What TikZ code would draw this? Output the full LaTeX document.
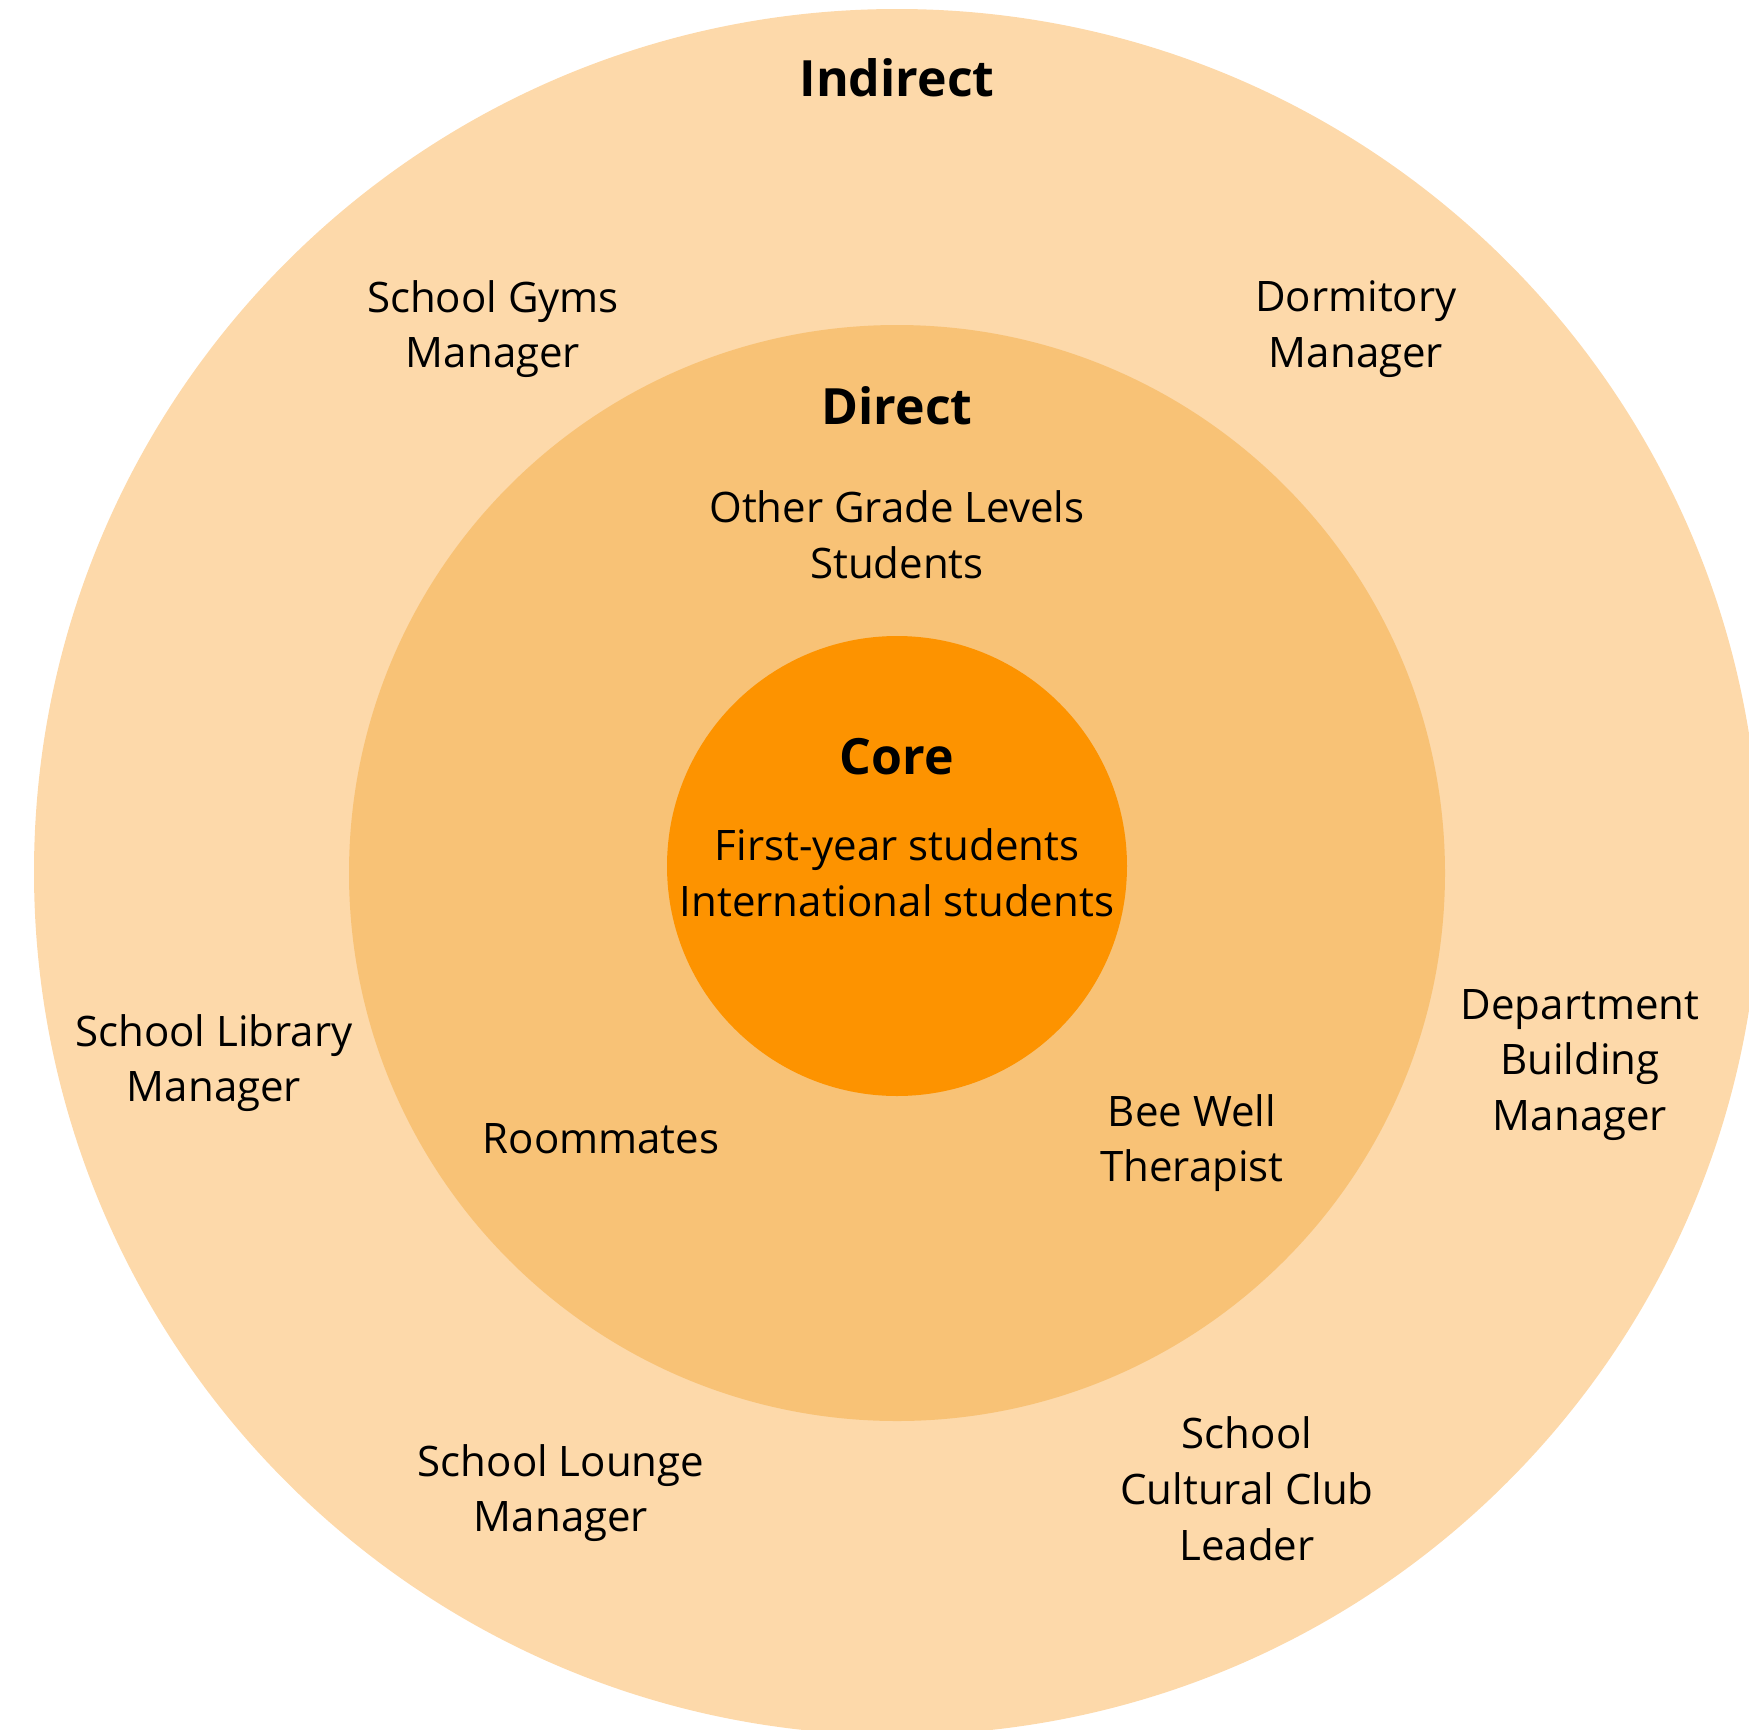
\documentclass[tikz,border=0pt]{standalone}
\usepackage{fontspec}
\setmainfont{Open Sans}
\definecolor{outerc}{HTML}{FDD9AA}
\definecolor{midc}{HTML}{F8C276}
\definecolor{corec}{HTML}{FD9300}
\begin{document}
\begin{tikzpicture}[x=1pt,y=-1pt,
  lbl/.style={align=center,inner sep=0pt,font=\fontsize{42}{55.8}\selectfont,text=black},
  ttl/.style={align=center,inner sep=0pt,font=\fontsize{50}{60}\selectfont\bfseries,text=black}]
\useasboundingbox (0,0) rectangle (1749,1730);
\clip (0,0) rectangle (1749,1730);
\fill[outerc] (897,872) circle[radius=863];
\fill[midc] (897,873) circle[radius=548];
\fill[corec] (897,866) circle[radius=230];
\node[ttl] (indirect) at (897,78) {Indirect};
\node[ttl] (direct) at (897,406) {Direct};
\node[ttl] (core) at (897,757) {Core};
\node[lbl] (gyms) at (493,329) {School Gyms\\Manager};
\node[lbl] (dorm) at (1356,329) {Dormitory\\Manager};
\node[lbl] (other) at (897,535) {Other Grade Levels\\Students};
\node[lbl] (firsty) at (897,873) {First-year students\\International students};
\node[lbl] (library) at (214,1063) {School Library\\Manager};
\node[lbl] (dept) at (1580,1065) {Department\\Building\\Manager};
\node[lbl] (room) at (601,1139) {Roommates};
\node[lbl] (bee) at (1192,1143) {Bee Well\\Therapist};
\node[lbl] (lounge) at (561,1493) {School Lounge\\Manager};
\node[lbl] (club) at (1247,1489) {School\\Cultural Club\\Leader};
\end{tikzpicture}
\end{document}
